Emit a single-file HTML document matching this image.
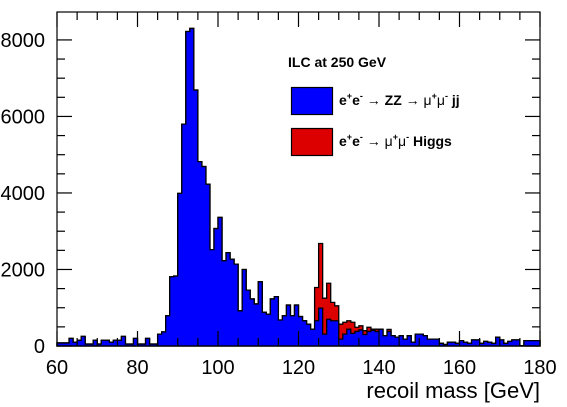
<!DOCTYPE html>
<html><head><meta charset="utf-8"><style>
html,body{margin:0;padding:0;background:#fff;}
svg{display:block;font-family:"Liberation Sans",Arial,sans-serif;}
</style></head><body>
<svg id="chart" width="567" height="407" viewBox="0 0 567 407">
  <g id="hist"></g>
  <rect x="57" y="12" width="483" height="334" fill="none" stroke="#000" stroke-width="1.2"/>
  <g id="axes"></g>
  <text x="540" y="398" font-size="22" text-anchor="end">recoil mass [GeV]</text>
  <g>
    <text x="288" y="67" font-size="14" font-weight="bold">ILC at 250 GeV</text>
    <g>
      <rect x="291.5" y="87.5" width="41" height="27" fill="#0000ff" stroke="#000" stroke-width="1.2"/>
      <text x="339" y="105" font-size="14" font-weight="bold">e<tspan font-size="9" dy="-6">+</tspan><tspan dy="6">e</tspan><tspan font-size="9" dy="-6">-</tspan><tspan dy="6" font-weight="normal"> → </tspan>ZZ<tspan font-weight="normal"> → μ</tspan><tspan font-size="9" dy="-6">+</tspan><tspan dy="6" font-weight="normal">μ</tspan><tspan font-size="9" dy="-6">-</tspan><tspan dy="6"> jj</tspan></text>
    </g>
    <g>
      <rect x="291.5" y="128.5" width="41" height="27" fill="#dd0000" stroke="#000" stroke-width="1.2"/>
      <text x="339" y="146" font-size="14" font-weight="bold">e<tspan font-size="9" dy="-6">+</tspan><tspan dy="6">e</tspan><tspan font-size="9" dy="-6">-</tspan><tspan dy="6" font-weight="normal"> → μ</tspan><tspan font-size="9" dy="-6">+</tspan><tspan dy="6" font-weight="normal">μ</tspan><tspan font-size="9" dy="-6">-</tspan><tspan dy="6"> Higgs</tspan></text>
    </g>
  </g>
</svg>
<script>
// 1 GeV bins from 60 to 180
const binStart = 60;
const blueCounts = [80,80,80,200,100,150,250,50,50,150,50,150,150,100,150,150,250,50,50,200,
  50,50,200,50,50,310,370,790,1810,1830,3990,5800,8220,8300,6690,4820,4690,4230,2520,3070,
  3360,2230,2440,2270,2140,920,2000,1460,1230,1100,1680,880,830,1230,1290,680,790,1070,790,1070,
  770,660,570,440,660,990,310,700,660,660,180,310,440,330,380,420,300,380,410,380,
  440,270,380,270,230,270,180,270,100,310,310,270,180,180,180,70,40,100,100,70,
  140,100,70,160,160,70,120,100,70,230,160,70,120,160,160,10,140,140,140,140];
const redCounts = [0,0,0,0,0,0,0,0,0,0,0,0,0,0,0,0,0,0,0,0,
  0,0,0,0,0,0,0,0,0,0,0,0,0,0,0,0,0,0,0,0,
  0,0,0,0,0,0,0,0,0,0,0,0,0,0,0,0,0,0,0,0,
  0,0,0,0,870,1690,940,940,480,390,390,310,220,290,110,110,100,110,30,60,
  0,0,55,0,0,0,0,0,0,0,0,0,0,0,0,0,0,0,0,0,
  0,0,0,0,0,0,0,0,0,0,0,0,0,0,0,0,0,0,0,0];
const xTicks = [60,80,100,120,140,160,180];
const yTicks = [0,2000,4000,6000,8000];

const X0=57, X1=540, Y0=346, Y1=12, XMIN=60, XMAX=180, YMAX=8730;
const sx = v => X0 + (v-XMIN)/(XMAX-XMIN)*(X1-X0);
const sy = v => Y0 - v/YMAX*(Y0-Y1);
const NS="http://www.w3.org/2000/svg";
const hist=document.getElementById('hist'), axes=document.getElementById('axes');

function stepPath(vals){
  let d=`M${sx(binStart)},${sy(0)}`;
  vals.forEach((v,i)=>{d+=` L${sx(binStart+i)},${sy(v)} L${sx(binStart+i+1)},${sy(v)}`;});
  d+=` L${sx(binStart+vals.length)},${sy(0)} Z`;
  return d;
}
const totals = blueCounts.map((b,i)=>b+redCounts[i]);
const red=document.createElementNS(NS,'path');
red.setAttribute('d',stepPath(totals));red.setAttribute('fill','#dd0000');red.setAttribute('stroke','#000');red.setAttribute('stroke-width','1.3');


hist.appendChild(red);
const blue=document.createElementNS(NS,'path');
blue.setAttribute('d',stepPath(blueCounts));blue.setAttribute('fill','#0000ff');blue.setAttribute('stroke','#000');blue.setAttribute('stroke-width','1.3');


hist.appendChild(blue);

function line(x1,y1,x2,y2){const l=document.createElementNS(NS,'line');l.setAttribute('x1',x1);l.setAttribute('y1',y1);l.setAttribute('x2',x2);l.setAttribute('y2',y2);l.setAttribute('stroke','#000');l.setAttribute('stroke-width','1.2');axes.appendChild(l);return l;}
function txt(x,y,s,anchor){const t=document.createElementNS(NS,'text');t.setAttribute('x',x);t.setAttribute('y',y);t.setAttribute('font-size','20');t.setAttribute('text-anchor',anchor);t.textContent=s;axes.appendChild(t);return t;}
for(let v=XMIN; v<=XMAX; v+=5){
  const big=v%20===0, len=big?15:8, x=sx(v);
  line(x,Y0,x,Y0-len); line(x,Y1,x,Y1+len);
}
for(let v=0; v<=8000; v+=500){
  const big=v%2000===0, len=big?15:8, y=sy(v);
  line(X0,y,X0+len,y); line(X1,y,X1-len,y);
}
xTicks.forEach(v=>{const t=txt(sx(v),374,String(v),'middle');
  
  });
yTicks.forEach(v=>{const t=txt(45,sy(v)+7,String(v),'end');
  
  });
</script>
</body></html>
